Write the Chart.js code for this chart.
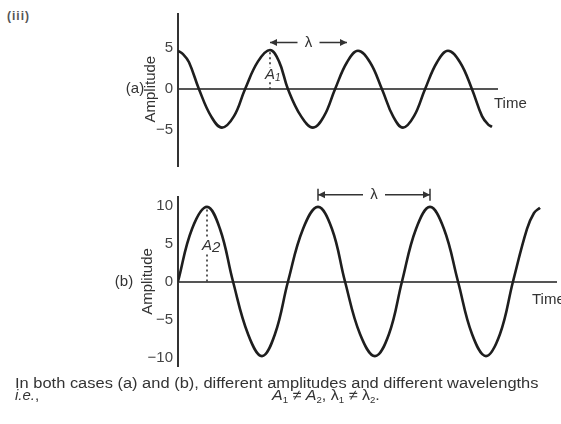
<!DOCTYPE html>
<html>
<head>
<meta charset="utf-8">
<script src="https://cdn.jsdelivr.net/npm/chart.js@4.4.1/dist/chart.umd.min.js"></script>
<style>
  body { margin: 0; background: #fff; width: 561px; height: 424px; overflow: hidden; position: relative;
         font-family: "Liberation Sans", Arial, sans-serif; color: #333; }
  .caixa { position: absolute; left: 0; }
  .txt { position: absolute; white-space: nowrap; font-size: 14px; line-height: 14px; color: #333; transform-origin: 0 0; }
  .txt sub { font-size: 9px; vertical-align: -3px; line-height: 0; }
</style>
</head>
<body>

<div class="txt" style="left:7px; top:9px; font-size:12px; font-weight:bold; letter-spacing:1px; color:#555;">(iii)</div>

<div class="caixa" style="top:0; width:561px; height:180px;"><canvas id="graficoA" width="561" height="180"></canvas></div>
<div class="caixa" style="top:180px; width:561px; height:200px;"><canvas id="graficoB" width="561" height="200"></canvas></div>

<div class="txt" id="linha1" style="left:15px; top:376px;">In both cases (a) and (b), different amplitudes and different wavelengths</div>
<div class="txt" style="left:15px; top:388px; font-size:15px;"><i>i.e.</i>,</div>
<div class="txt" id="linha2" style="left:272px; top:388px; font-size:15px;"><i>A</i><sub>1</sub> &#8800; <i>A</i><sub>2</sub>, &#955;<sub>1</sub> &#8800; &#955;<sub>2</sub>.</div>

<script>
// valores (tempo em unidades arbitrarias)
const tempoA = [0, 5, 11, 21, 33, 44, 56, 67, 80, 92, 101, 110, 123, 135, 146, 157, 169, 180, 192, 204, 215, 225, 236, 247, 259, 270, 282, 294, 304, 310, 314];
const amplitudeA = [4.7, 4.3, 3.3, 0, -3.3, -4.7, -3.3, 0, 3.4, 4.8, 3.4, 0, -3.3, -4.7, -3.3, 0, 3.3, 4.7, 3.3, 0, -3.3, -4.7, -3.3, 0, 3.3, 4.7, 3.3, 0, -3.3, -4.3, -4.6];
const ticksA = [-5, 0, 5];

const tempoB = [0, 14, 29, 42, 55, 70, 84, 97, 110, 125, 140, 154, 167, 182, 197, 211, 224, 238, 252, 266, 280, 294, 308, 322, 335, 349, 356, 362];
const amplitudeB = [0, 6.9, 9.8, 6.9, 0, -6.9, -9.8, -6.9, 0, 6.9, 9.8, 6.9, 0, -6.9, -9.8, -6.9, 0, 6.9, 9.8, 6.9, 0, -6.9, -9.8, -6.9, 0, 6.9, 9.0, 9.7];
const ticksB = [-10, -5, 0, 5, 10];

// posicoes das setas lambda (em tempo)
const lambdaA = [92, 169];
const lambdaB = [140, 252];

const fonte = '"Liberation Sans", Arial, sans-serif';

function pontos(xs, ys) {
  return xs.map((x, i) => ({ x: x, y: ys[i] }));
}

function seta(ctx, x, y, dir) {
  ctx.beginPath();
  ctx.moveTo(x, y);
  ctx.lineTo(x - dir * 7, y - 3.5);
  ctx.lineTo(x - dir * 7, y + 3.5);
  ctx.closePath();
  ctx.fill();
}

function desenharLambda(ctx, x1, x2, y, barras) {
  const meio = (x1 + x2) / 2;
  ctx.save();
  ctx.strokeStyle = '#333';
  ctx.fillStyle = '#333';
  ctx.lineWidth = 1.5;
  ctx.beginPath();
  ctx.moveTo(x1, y); ctx.lineTo(meio - 11, y);
  ctx.moveTo(meio + 11, y); ctx.lineTo(x2, y);
  if (barras) {
    ctx.moveTo(x1, y - 6); ctx.lineTo(x1, y + 6);
    ctx.moveTo(x2, y - 6); ctx.lineTo(x2, y + 6);
  }
  ctx.stroke();
  seta(ctx, x1, y, -1);
  seta(ctx, x2, y, 1);
  ctx.font = '15px ' + fonte;
  ctx.textAlign = 'center';
  ctx.textBaseline = 'middle';
  ctx.fillText('\u03bb', meio, y);
  ctx.restore();
}

function rotuloA(ctx, x, y, sub) {
  ctx.save();
  ctx.font = 'italic 15px ' + fonte;
  const w = ctx.measureText('A').width;
  ctx.fillStyle = '#fff';
  ctx.fillRect(x - w / 2 - 1, y - 7, w + 8, 14);
  ctx.fillStyle = '#333';
  ctx.textBaseline = 'middle';
  ctx.textAlign = 'left';
  ctx.fillText('A', x - w / 2 - 1, y);
  ctx.font = sub.pequeno ? 'italic 10px ' + fonte : 'italic 15px ' + fonte;
  ctx.fillText(sub.texto, x + w / 2 - 1, y + (sub.pequeno ? 4 : 2));
  ctx.restore();
}

function gerarGrafico(id, cfg) {
  const pico = cfg.ys.indexOf(Math.max(...cfg.ys));
  const xPico = cfg.xs[pico];

  const anotacoes = {
    id: 'anotacoes',
    // rotulo A depois da linha pontilhada, antes da onda
    afterDatasetDraw(chart, args) {
      if (args.index !== 1) return;
      const sx = chart.scales.x, sy = chart.scales.y;
      rotuloA(chart.ctx, sx.getPixelForValue(xPico) + 1, cfg.yRotulo(sy), cfg.sub);
    },
    afterDraw(chart) {
      const ctx = chart.ctx;
      const sx = chart.scales.x, sy = chart.scales.y;
      const area = chart.chartArea;
      const y0 = sy.getPixelForValue(0);

      ctx.save();
      ctx.fillStyle = '#333';
      ctx.font = '15px ' + fonte;
      ctx.textBaseline = 'middle';
      ctx.textAlign = 'center';
      ctx.fillText(cfg.letra, area.left - cfg.dxLetra, y0);

      ctx.save();
      ctx.translate(area.left - cfg.dxTitulo, y0);
      ctx.rotate(-Math.PI / 2);
      ctx.fillText('Amplitude', 0, 0);
      ctx.restore();

      ctx.textAlign = 'left';
      ctx.fillText('Time', area.right + cfg.dxTime, y0 + cfg.dyTime);
      ctx.restore();

      desenharLambda(ctx, sx.getPixelForValue(cfg.lambda[0]), sx.getPixelForValue(cfg.lambda[1]),
        sy.getPixelForValue(cfg.yLambda), cfg.barras);
    }
  };

  new Chart(document.getElementById(id), {
    type: 'line',
    data: {
      datasets: [{
        data: pontos(cfg.xs, cfg.ys),
        borderColor: '#1e1e1e',
        borderWidth: 2.6,
        tension: 0.4,
        pointRadius: 0,
        fill: false
      }, {
        data: [{ x: xPico, y: 0 }, { x: xPico, y: cfg.ys[pico] }],
        borderColor: '#333',
        borderWidth: 1.6,
        borderDash: [2, 3],
        pointRadius: 0,
        tension: 0
      }]
    },
    options: {
      responsive: false,
      animation: false,
      layout: { padding: cfg.padding },
      plugins: { legend: { display: false }, tooltip: { enabled: false } },
      scales: {
        x: { type: 'linear', min: 0, max: cfg.xMax, display: false },
        y: {
          min: cfg.yMin, max: cfg.yMax,
          afterFit: (s) => { s.width = 178; },
          afterBuildTicks: (s) => { s.ticks = cfg.ticks.map(v => ({ value: v })); },
          border: { display: true, color: '#333', width: 2 },
          grid: {
            drawTicks: false,
            lineWidth: 2,
            color: (c) => (c.tick && c.tick.value === 0) ? '#555' : 'rgba(0,0,0,0)'
          },
          ticks: {
            padding: 5,
            color: '#444',
            font: { family: fonte, size: 15 },
            callback: (v) => v < 0 ? '\u2212' + Math.abs(v) : '' + v
          }
        }
      }
    },
    plugins: [anotacoes]
  });
}

gerarGrafico('graficoA', {
  xs: tempoA, ys: amplitudeA, ticks: ticksA, lambda: lambdaA,
  xMax: 320, yMin: -9.4, yMax: 9.2,
  padding: { left: 0, right: 63, top: 10, bottom: 10 },
  letra: '(a)', dxLetra: 43, dxTitulo: 27, dxTime: -4, dyTime: 15,
  sub: { texto: '1', pequeno: true },
  yRotulo: (sy) => sy.getPixelForValue(1.8),
  yLambda: 5.7, barras: false
});

gerarGrafico('graficoB', {
  xs: tempoB, ys: amplitudeB, ticks: ticksB, lambda: lambdaB,
  xMax: 379, yMin: -11.1, yMax: 11.1,
  padding: { left: 0, right: 4, top: 17, bottom: 7 },
  letra: '(b)', dxLetra: 54, dxTitulo: 30, dxTime: -25, dyTime: 18,
  sub: { texto: '2', pequeno: false },
  yRotulo: (sy) => sy.getPixelForValue(4.7),
  yLambda: 11.4, barras: true
});

// ajusta a largura das linhas do texto
const linha1 = document.getElementById('linha1');
linha1.style.transform = 'scaleX(' + (523 / linha1.offsetWidth) + ')';
const linha2 = document.getElementById('linha2');
linha2.style.transform = 'scaleX(' + (108 / linha2.offsetWidth) + ')';
</script>
</body>
</html>
